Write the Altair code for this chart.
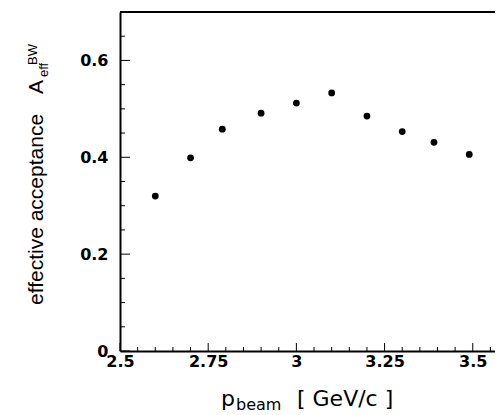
import altair as alt
import pandas as pd

# ---- data ----
p_beam = [2.6, 2.7, 2.79, 2.9, 3.0, 3.1, 3.2, 3.3, 3.39, 3.49]
acceptance = [0.320, 0.399, 0.458, 0.491, 0.512, 0.533, 0.485, 0.453, 0.431, 0.406]

x_major = [2.5, 2.75, 3.0, 3.25, 3.5]
x_minor = [2.55, 2.6, 2.65, 2.7, 2.8, 2.85, 2.9, 2.95, 3.05, 3.1, 3.15, 3.2,
           3.3, 3.35, 3.4, 3.45, 3.55]
y_major = [0.0, 0.2, 0.4, 0.6]
y_minor = [0.05, 0.1, 0.15, 0.25, 0.3, 0.35, 0.45, 0.5, 0.55, 0.65]

W, H = 375, 339
xscale = alt.Scale(domain=[2.5, 3.563], nice=False, zero=False)
yscale = alt.Scale(domain=[0, 0.7], nice=False, zero=True)

pts = pd.DataFrame({"p": p_beam, "a": acceptance})

xaxis = alt.Axis(values=x_major, labelExpr="datum.value + ''", ticks=False,
                 grid=False, domain=True, domainColor="black", domainWidth=2,
                 labelFont="DejaVu Sans", labelFontWeight="bold", labelFontSize=16,
                 labelColor="black", labelPadding=2, title=None, labelFlush=False,
                 labelOverlap=False)
yaxis = alt.Axis(values=y_major, labelExpr="datum.value + ''", ticks=False,
                 grid=False, domain=True, domainColor="black", domainWidth=2,
                 labelFont="DejaVu Sans", labelFontWeight="bold", labelFontSize=16,
                 labelColor="black", labelPadding=12, title=None, labelFlush=False,
                 labelOverlap=False)

points = alt.Chart(pts).mark_circle(size=46, color="black", opacity=1).encode(
    x=alt.X("p:Q", scale=xscale, axis=xaxis),
    y=alt.Y("a:Q", scale=yscale, axis=yaxis),
)

def xticks(vals, length):
    return alt.Chart(pd.DataFrame({"v": vals})).mark_rule(color="black", strokeWidth=1).encode(
        x=alt.X("v:Q", scale=xscale),
        y=alt.value(H), y2=alt.value(H - length))

def yticks(vals, length):
    return alt.Chart(pd.DataFrame({"v": vals})).mark_rule(color="black", strokeWidth=1).encode(
        y=alt.Y("v:Q", scale=yscale),
        x=alt.value(0), x2=alt.value(length))

one = pd.DataFrame({"k": [0]})
top_border = alt.Chart(one).mark_rule(color="black", strokeWidth=2).encode(
    x=alt.value(0), x2=alt.value(W), y=alt.value(0))

def txt(s, x, y, size, angle=0, font="Liberation Sans"):
    return alt.Chart(one).mark_text(text=s, font=font, fontSize=size, align="left",
                                    baseline="alphabetic", angle=angle, color="black").encode(
        x=alt.value(x), y=alt.value(y))

titles = [
    txt("effective acceptance", -77, 293, 21, 270),
    txt("A", -77, 82, 21, 270),
    txt("eff", -72, 65, 13, 270),
    txt("BW", -83, 53, 13, 270),
    txt("p", 101, 394, 22, font="DejaVu Sans"),
    txt("beam", 116, 398, 16, font="DejaVu Sans"),
    txt("[ GeV/c ]", 177, 394, 22, font="DejaVu Sans"),
]

chart = alt.layer(
    points,
    xticks(x_major, 8), xticks(x_minor, 4),
    yticks(y_major, 10), yticks(y_minor, 5),
    top_border,
    *titles,
).properties(
    width=W, height=H,
    autosize=alt.AutoSizeParams(type="none"),
    padding={"left": 112, "top": 4, "right": 0, "bottom": 64},
).configure_view(stroke=None).configure(background="white")

chart.save("out.html", embed_options={"renderer": "svg", "actions": False})
